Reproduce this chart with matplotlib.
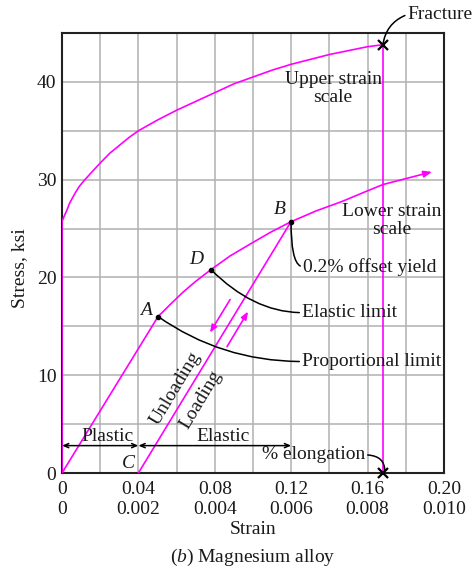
import matplotlib
matplotlib.use("Agg")
import matplotlib.pyplot as plt
from matplotlib.transforms import blended_transform_factory

plt.rcParams['font.family'] = ['Liberation Serif', 'DejaVu Serif']
plt.rcParams['mathtext.fontset'] = 'custom'
plt.rcParams['mathtext.rm'] = 'Liberation Serif'
plt.rcParams['mathtext.it'] = 'Liberation Serif:italic'

# ---- data (strain in upper-scale units, stress in ksi) ----
upper_x = [0, 0, 0.001, 0.0026, 0.004, 0.0068, 0.009, 0.012, 0.0157, 0.02,
           0.025, 0.03, 0.035, 0.04, 0.05, 0.06, 0.07, 0.08, 0.09, 0.10,
           0.11, 0.12, 0.13, 0.14, 0.15, 0.16, 0.168]
upper_y = [0, 25.7, 26.2, 26.9, 27.6, 28.6, 29.3, 30.0, 30.8, 31.7,
           32.7, 33.5, 34.3, 35.0, 36.1, 37.1, 38.0, 38.9, 39.8, 40.5,
           41.2, 41.8, 42.3, 42.8, 43.2, 43.6, 43.8]
lower_x = [0, 0.0503, 0.057, 0.0634, 0.070, 0.078, 0.088, 0.0984, 0.109, 0.1199,
           0.133, 0.147, 0.158, 0.168, 0.1937]
lower_y = [0, 16.0, 17.3, 18.5, 19.6, 20.8, 22.2, 23.4, 24.6, 25.7,
           26.8, 27.8, 28.7, 29.5, 30.8]
unload_x = [0.1199, 0.04]
unload_y = [25.7, 0]
fracture_x = 0.168
fracture_y = 43.8
upper_ticks = [0, 0.04, 0.08, 0.12, 0.16, 0.20]
upper_labels = ['0', '0.04', '0.08', '0.12', '0.16', '0.20']
lower_labels = ['0', '0.002', '0.004', '0.006', '0.008', '0.010']
y_ticks = [0, 10, 20, 30, 40]

MAG = '#ff00ff'
FS = 14
TXT = '#1a1a1a'

fig = plt.figure(figsize=(4.73, 5.70), dpi=100)
ax = fig.add_axes([62/473, 1-473/570, (444-62)/473, (473-33)/570])
ax.set_xlim(0, 0.20)
ax.set_ylim(0, 45)

# grid
for gx in [0.02*i for i in range(1, 10)]:
    ax.axvline(gx, color='#b0b0b0', lw=1.1, zorder=0)
for gy in [5*i for i in range(1, 9)]:
    ax.axhline(gy, color='#b0b0b0', lw=1.1, zorder=0)

for s in ax.spines.values():
    s.set_linewidth(1.5)
    s.set_color('#222222')

ax.set_xticks(upper_ticks)
ax.set_xticklabels([])
ax.set_yticks(y_ticks)
ax.set_yticklabels([str(v) for v in y_ticks], fontsize=FS, color=TXT)
ax.tick_params(length=0, pad=4)

bt = blended_transform_factory(ax.transData, fig.transFigure)
for xv, a, b in zip(upper_ticks, upper_labels, lower_labels):
    fig.text(xv, 1-489/570, a, transform=bt, ha='center', va='center', fontsize=FS, color=TXT)
    fig.text(xv, 1-510/570, b, transform=bt, ha='center', va='center', fontsize=FS, color=TXT)

# curves
ax.plot(upper_x, upper_y, color=MAG, lw=1.2, zorder=3)
ax.plot(lower_x[:-1], lower_y[:-1], color=MAG, lw=1.2, zorder=3)
ax.annotate('', xy=(lower_x[-1], lower_y[-1]), xytext=(lower_x[-2], lower_y[-2]),
            arrowprops=dict(arrowstyle='-|>,head_length=0.5,head_width=0.2',
                            color=MAG, lw=1.2, shrinkA=0, shrinkB=0), zorder=3)
ax.plot(unload_x, unload_y, color=MAG, lw=1.2, zorder=3)
ax.plot([fracture_x, fracture_x], [fracture_y, 0], color=MAG, lw=1.2, zorder=3)

# markers
ax.plot([fracture_x], [fracture_y], marker='x', color='black', ms=7, mew=1.6, zorder=5, clip_on=False)
ax.plot([fracture_x], [0], marker='x', color='black', ms=7, mew=1.6, zorder=5, clip_on=False)
for (px, py) in [(lower_x[1], lower_y[1]), (lower_x[5], lower_y[5]), (lower_x[9], lower_y[9])]:
    ax.plot([px], [py], marker='o', color='black', ms=3, zorder=5)

# loading / unloading arrows
ax.annotate('', xy=(0.0775, 14.36), xytext=(0.0880, 17.74),
            arrowprops=dict(arrowstyle='-|>,head_length=0.45,head_width=0.18',
                            color=MAG, lw=1.2, shrinkA=0, shrinkB=0))
ax.annotate('', xy=(0.0974, 16.51), xytext=(0.0864, 12.92),
            arrowprops=dict(arrowstyle='-|>,head_length=0.45,head_width=0.18',
                            color=MAG, lw=1.2, shrinkA=0, shrinkB=0))
ax.text(0.0592, 8.7, 'Unloading', rotation=59, ha='center', va='center',
        rotation_mode='anchor', fontsize=FS, color=TXT)
ax.text(0.0725, 7.5, 'Loading', rotation=59, ha='center', va='center',
        rotation_mode='anchor', fontsize=FS, color=TXT)

# point labels
ax.text(0.114, 27.0, 'B', style='italic', fontsize=FS, ha='center', va='center', color=TXT)
ax.text(0.0702, 21.8, 'D', style='italic', fontsize=FS, ha='center', va='center', color=TXT)
ax.text(0.044, 16.6, 'A', style='italic', fontsize=FS, ha='center', va='center', color=TXT)
ax.text(0.0346, 1.0, 'C', style='italic', fontsize=FS, ha='center', va='center', color=TXT)

# scale labels
ax.text(0.1419, 39.3, 'Upper strain\nscale', ha='center', va='center',
        fontsize=FS, linespacing=1.05, color=TXT)
ax.text(0.1728, 25.85, 'Lower strain\nscale', ha='center', va='center',
        fontsize=FS, linespacing=1.05, color=TXT)

# leaders
lead = dict(arrowstyle='-', color='black', lw=1.1, shrinkA=0, shrinkB=0)
ax.annotate('Proportional limit', xy=(lower_x[1], lower_y[1]), xytext=(0.1257, 11.4),
            ha='left', va='center', fontsize=FS, color=TXT,
            arrowprops=dict(lead, connectionstyle='angle3,angleA=0,angleB=-35', relpos=(0, 0.5)))
ax.annotate('Elastic limit', xy=(lower_x[5], lower_y[5]), xytext=(0.1257, 16.4),
            ha='left', va='center', fontsize=FS, color=TXT,
            arrowprops=dict(lead, connectionstyle='angle3,angleA=0,angleB=-45', relpos=(0, 0.5)))
ax.annotate('0.2% offset yield', xy=(lower_x[9], lower_y[9]), xytext=(0.1262, 21.1),
            ha='left', va='center', fontsize=FS, color=TXT,
            arrowprops=dict(lead, connectionstyle='angle3,angleA=0,angleB=90', relpos=(0, 0.5)))
ax.annotate('Fracture', xy=(fracture_x, fracture_y), xytext=(0.181, 46.9),
            ha='left', va='center', fontsize=FS, color=TXT, annotation_clip=False,
            arrowprops=dict(lead, connectionstyle='arc3,rad=0.3', relpos=(0, 0.5)))
ax.annotate('% elongation', xy=(0.169, 0.2), xytext=(0.1586, 1.85),
            ha='right', va='center', fontsize=FS, color=TXT,
            arrowprops=dict(lead, connectionstyle='angle3,angleA=0,angleB=90', relpos=(1, 0.5)))

# plastic / elastic
ar = dict(arrowstyle='<->,head_length=0.35,head_width=0.15', color='black', lw=1.1,
          shrinkA=0, shrinkB=0)
ax.annotate('', xy=(0.0, 2.8), xytext=(0.04, 2.8), arrowprops=ar)
ax.annotate('', xy=(0.04, 2.8), xytext=(0.12, 2.8), arrowprops=ar)
ax.text(0.0236, 3.75, 'Plastic', ha='center', va='center', fontsize=FS, color=TXT)
ax.text(0.0843, 3.75, 'Elastic', ha='center', va='center', fontsize=FS, color=TXT)

# axis titles
fig.text(20/473, 1-268/570, 'Stress, ksi', rotation=90, ha='center', va='center', fontsize=FS, color=TXT)
fig.text(253/473, 1-530/570, 'Strain', ha='center', va='center', fontsize=FS, color=TXT)
fig.text(253/473, 1-557/570, r'($\mathit{b}$) Magnesium alloy', ha='center', va='center', fontsize=FS, color=TXT)

fig.savefig('out.png', dpi=100)
